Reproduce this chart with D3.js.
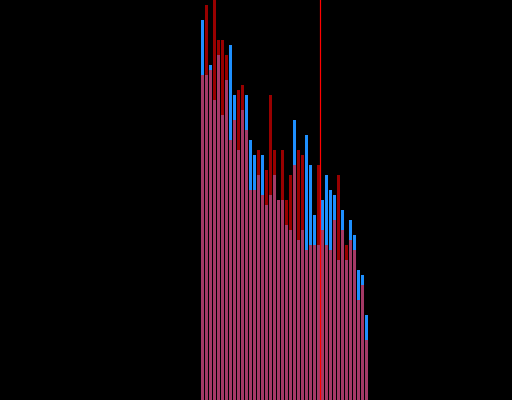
<!DOCTYPE html>
<html>
<head>
<meta charset="utf-8">
<script src="https://cdn.jsdelivr.net/npm/d3@7"></script>
<style>
html,body{margin:0;padding:0;background:#000;}
svg{display:block;}
</style>
</head>
<body>
<script>
const categories = d3.range(42);
const blueValues = [76,65,67,60,69,57,64,71,61,50,58,61,52,49,45,49,39,41,45,40,40,35,34,56,32,34,53,47,37,31,40,45,42,41,28,38,28,36,33,26,25,17];
const redValues  = [65,79,66,80,72,72,69,52,56,62,63,54,42,42,50,41,46,61,50,40,50,40,45,47,50,49,30,31,31,47,34,31,30,36,45,34,31,32,30,20,23,12];
const markerValue = [30];

const W = 512, H = 400;
const svg = d3.select("body").append("svg").attr("width", W).attr("height", H);
svg.append("rect").attr("width", W).attr("height", H).attr("fill", "#000");

const x = d3.scaleLinear().domain([0, 42]).range([200, 368]);
const y = d3.scaleLinear().domain([0, 80]).range([H, 0]);
const bw = 3;

svg.append("g").selectAll("rect").data(categories).join("rect")
  .attr("x", d => x(d) + 1)
  .attr("width", bw)
  .attr("y", d => y(blueValues[d]))
  .attr("height", d => H - y(blueValues[d]))
  .attr("fill", "#1e90ff");

svg.append("g").selectAll("rect").data(categories).join("rect")
  .attr("x", d => x(d) + 1)
  .attr("width", bw)
  .attr("y", d => y(redValues[d]))
  .attr("height", d => H - y(redValues[d]))
  .attr("fill", "#ff0000")
  .attr("fill-opacity", 0.6);

svg.append("g").selectAll("line").data(markerValue).join("line")
  .attr("x1", d => x(d) + 0.5).attr("x2", d => x(d) + 0.5)
  .attr("y1", 0).attr("y2", H)
  .attr("stroke", "#ff0000")
  .attr("stroke-width", 1.2);
</script>
</body>
</html>
